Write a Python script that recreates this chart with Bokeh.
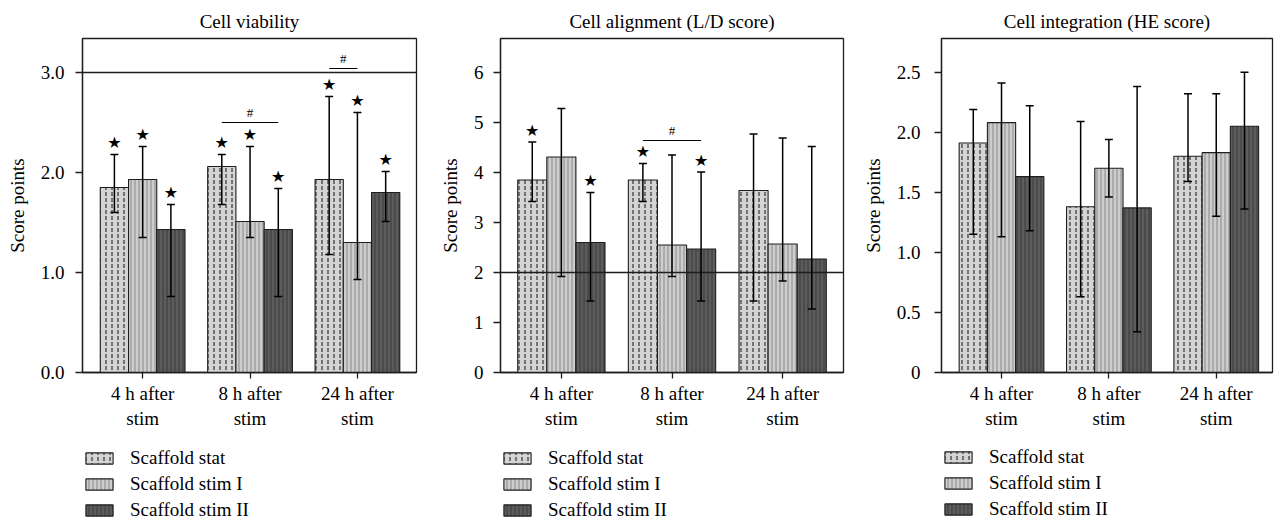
from bokeh.plotting import figure
from bokeh.models import ColumnDataSource, Whisker, TeeHead, Span, Legend, LegendItem, FixedTicker
from bokeh.layouts import row, column
from bokeh.embed import file_html
from bokeh.resources import INLINE
from bokeh.core.properties import value

# ---------------- data ----------------
groups = ["4 h after\nstim", "8 h after\nstim", "24 h after\nstim"]
series = ["Scaffold stat", "Scaffold stim I", "Scaffold stim II"]
titles = ["Cell viability", "Cell alignment (L/D score)", "Cell integration (HE score)"]

# Cell viability
via_stat = [1.85, 2.06, 1.93]
via_stim1 = [1.93, 1.51, 1.30]
via_stim2 = [1.43, 1.43, 1.80]
via_stat_hi = [2.18, 2.18, 2.76]
via_stim1_hi = [2.26, 2.26, 2.60]
via_stim2_hi = [1.68, 1.84, 2.01]
via_stat_lo = [1.60, 1.68, 1.18]
via_stim1_lo = [1.35, 1.35, 0.93]
via_stim2_lo = [0.76, 0.76, 1.51]
via_star_stat = [True, True, True]
via_star_stim1 = [True, True, True]
via_star_stim2 = [True, True, True]
via_ref = 3.0
via_yticks = [0, 1, 2, 3]
via_ylabels = ["0.0", "1.0", "2.0", "3.0"]
# significance brackets: group index, from series, to series, level
via_br_group = [2, 3]
via_br_from = [0, 0]
via_br_to = [2, 1]
via_br_level = [2.50, 3.04]

# Cell alignment
ali_stat = [3.85, 3.85, 3.64]
ali_stim1 = [4.31, 2.55, 2.57]
ali_stim2 = [2.60, 2.47, 2.27]
ali_stat_hi = [4.61, 4.18, 4.77]
ali_stim1_hi = [5.28, 4.35, 4.69]
ali_stim2_hi = [3.60, 4.01, 4.52]
ali_stat_lo = [3.42, 3.42, 1.43]
ali_stim1_lo = [1.92, 1.92, 1.83]
ali_stim2_lo = [1.43, 1.43, 1.27]
ali_star_stat = [True, True, False]
ali_star_stim1 = [False, False, False]
ali_star_stim2 = [True, True, False]
ali_ref = 2.0
ali_yticks = [0, 1, 2, 3, 4, 5, 6]
ali_ylabels = ["0", "1", "2", "3", "4", "5", "6"]
ali_br_group = [2]
ali_br_from = [0]
ali_br_to = [2]
ali_br_level = [4.64]

# Cell integration
int_stat = [1.91, 1.38, 1.80]
int_stim1 = [2.08, 1.70, 1.83]
int_stim2 = [1.63, 1.37, 2.05]
int_stat_hi = [2.19, 2.09, 2.32]
int_stim1_hi = [2.41, 1.94, 2.32]
int_stim2_hi = [2.22, 2.38, 2.50]
int_stat_lo = [1.15, 0.63, 1.59]
int_stim1_lo = [1.13, 1.46, 1.30]
int_stim2_lo = [1.18, 0.34, 1.36]
int_star_stat = [False, False, False]
int_star_stim1 = [False, False, False]
int_star_stim2 = [False, False, False]
int_yticks = [0, 0.5, 1.0, 1.5, 2.0, 2.5]
int_ylabels = ["0", "0.5", "1.0", "1.5", "2.0", "2.5"]

# ---------------- style ----------------
FONT = "Liberation Serif"
H_PLOT = 432
H_LEG = 90
TOP = 38
FRAME_H = 334
BW = 0.263
INK = "#1e1e1e"
styles = [
    dict(fill_color="#d4d4d4", hatch_pattern=":", hatch_color="#111111", hatch_scale=6, hatch_weight=1),
    dict(fill_color="#cdcdcd", hatch_pattern="|", hatch_color="#8a8a8a", hatch_scale=4, hatch_weight=1),
    dict(fill_color="#5c5c5c", hatch_pattern="|", hatch_color="#3a3a3a", hatch_scale=4, hatch_weight=1),
]


def panel(title, means, his, los, stars, brackets, ref, yend, yticks, ylabels,
          xr, left, frame_w, right, tick_standoff, legend_vy):
    W = left + frame_w + right
    p = figure(width=W, height=H_PLOT, x_range=xr, y_range=(0, yend),
               output_backend="svg", toolbar_location=None,
               min_border_left=left, min_border_right=right,
               min_border_top=TOP, min_border_bottom=H_PLOT - TOP - FRAME_H,
               title=title)
    p.title.align = "center"
    p.title.text_font = FONT
    p.title.text_font_size = "19px"
    p.title.text_font_style = "normal"
    p.title.text_color = "black"
    p.title.standoff = 13
    p.xgrid.visible = False
    p.ygrid.visible = False
    p.outline_line_color = INK
    p.outline_line_width = 1.3

    xa = p.xaxis[0]
    xa.ticker = FixedTicker(ticks=[1, 2, 3])
    xa.major_label_overrides = {i + 1: g for i, g in enumerate(groups)}
    ya = p.yaxis[0]
    ya.ticker = FixedTicker(ticks=yticks)
    ya.major_label_overrides = {t: l for t, l in zip(yticks, ylabels)}
    ya.axis_label = "Score points"
    ya.axis_label_standoff = 10
    ya.major_label_standoff = tick_standoff
    xa.major_label_standoff = 4
    for ax in (xa, ya):
        ax.axis_line_color = INK
        ax.axis_line_width = 1.3
        ax.major_tick_line_color = INK
        ax.major_tick_line_width = 1.3
        ax.major_tick_in = 0
        ax.minor_tick_line_color = None
        ax.major_label_text_font = FONT
        ax.major_label_text_font_size = "19px"
        ax.major_label_text_color = "black"
        ax.axis_label_text_font = FONT
        ax.axis_label_text_font_size = "19px"
        ax.axis_label_text_font_style = "normal"
        ax.axis_label_text_color = "black"
    xa.major_tick_out = 6
    ya.major_tick_out = 7

    if ref is not None:
        p.add_layout(Span(location=ref, dimension="width", line_color=INK, line_width=1.4))

    for i in range(3):
        xs = [g + (i - 1) * BW for g in (1, 2, 3)]
        p.vbar(x=xs, top=means[i], width=BW, line_color=INK, line_width=1.1, **styles[i])
        src = ColumnDataSource(dict(x=xs, upper=his[i], lower=los[i]))
        w = Whisker(source=src, base="x", upper="upper", lower="lower", level="overlay",
                    line_color="black", line_width=1.5,
                    upper_head=TeeHead(size=8, line_color="black", line_width=1.5),
                    lower_head=TeeHead(size=8, line_color="black", line_width=1.5))
        p.add_layout(w)
        sx = [x for x, s in zip(xs, stars[i]) if s]
        sy = [h for h, s in zip(his[i], stars[i]) if s]
        if sx:
            p.text(x=sx, y=sy, text=["\u2605"] * len(sx), text_font=value("DejaVu Sans"),
                   text_font_size="16px", text_align="center", text_baseline="middle",
                   y_offset=-12, text_color="black")

    if brackets is not None:
        bg, bf, bt, bl = brackets
        x0 = [g + (f - 1) * BW for g, f in zip(bg, bf)]
        x1 = [g + (t - 1) * BW for g, t in zip(bg, bt)]
        p.segment(x0=x0, y0=bl, x1=x1, y1=bl, line_color="black", line_width=1.2)
        xm = [(a + b) / 2 for a, b in zip(x0, x1)]
        p.text(x=xm, y=bl, text=["#"] * len(xm), text_font=value(FONT), text_font_size="13px",
               text_align="center", text_baseline="middle", y_offset=-10, text_color="black")

    # legend strip below the chart (proxy glyphs lie outside its visible range)
    lg = figure(width=W, height=H_LEG, x_range=(0, 1), y_range=(0, 1),
                output_backend="svg", toolbar_location=None,
                x_axis_location=None, y_axis_location=None,
                min_border_left=left, min_border_right=right,
                min_border_top=0, min_border_bottom=0)
    lg.xgrid.visible = False
    lg.ygrid.visible = False
    lg.outline_line_color = None
    items = []
    for i in range(3):
        r = lg.vbar(x=[-5], top=[-5], width=BW, line_color=INK, line_width=1.1, **styles[i])
        items.append(LegendItem(label=series[i], renderers=[r]))
    leg = Legend(items=items, location=(0, legend_vy), orientation="vertical",
                 glyph_width=34, glyph_height=14, label_standoff=14, spacing=4,
                 padding=0, margin=0, border_line_color=None, background_fill_alpha=0,
                 label_text_font=FONT, label_text_font_size="19px", label_height=22,
                 label_text_color="black")
    lg.add_layout(leg)
    return column(p, lg, spacing=0)


c1 = panel(titles[0], [via_stat, via_stim1, via_stim2], [via_stat_hi, via_stim1_hi, via_stim2_hi],
           [via_stat_lo, via_stim1_lo, via_stim2_lo], [via_star_stat, via_star_stim1, via_star_stim2],
           (via_br_group, via_br_from, via_br_to, via_br_level), via_ref, 3.34, via_yticks, via_ylabels,
           (0.44, 3.55), 82, 334, 9, 11, 1)
c2 = panel(titles[1], [ali_stat, ali_stim1, ali_stim2], [ali_stat_hi, ali_stim1_hi, ali_stim2_hi],
           [ali_stat_lo, ali_stim1_lo, ali_stim2_lo], [ali_star_stat, ali_star_stim1, ali_star_stim2],
           (ali_br_group, ali_br_from, ali_br_to, ali_br_level), ali_ref, 6.68, ali_yticks, ali_ylabels,
           (0.45, 3.55), 75, 343, 7, 10, 1)
c3 = panel(titles[2], [int_stat, int_stim1, int_stim2], [int_stat_hi, int_stim1_hi, int_stim2_hi],
           [int_stat_lo, int_stim1_lo, int_stim2_lo], [int_star_stat, int_star_stim1, int_star_stim2],
           None, None, 2.78, int_yticks, int_ylabels,
           (0.441, 3.524), 91, 331, 3, 14, 2)

layout = row(c1, c2, c3, spacing=0)
open("out.html", "w").write(file_html(layout, INLINE))
